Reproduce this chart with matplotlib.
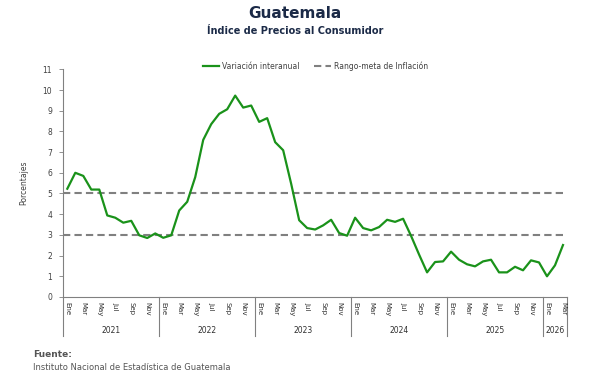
import numpy as np
import matplotlib
matplotlib.use('Agg')
import matplotlib.pyplot as plt
import matplotlib.transforms as mtransforms

plt.rcParams['font.family'] = ['DejaVu Sans']

years = ['2021', '2022', '2023', '2024', '2025', '2026']
months_per_year = [12, 12, 12, 12, 12, 3]
month_names = ['Ene', 'Feb', 'Mar', 'Abr', 'May', 'Jun', 'Jul', 'Ago', 'Sep', 'Oct', 'Nov', 'Dic']

inflacion = [5.23, 6.00, 5.85, 5.19, 5.19, 3.94, 3.83, 3.59, 3.68, 2.98, 2.85, 3.07,
             2.86, 2.98, 4.18, 4.60, 5.79, 7.59, 8.35, 8.85, 9.07, 9.73, 9.15, 9.25,
             8.46, 8.64, 7.48, 7.09, 5.47, 3.71, 3.33, 3.26, 3.46, 3.73, 3.09, 2.96,
             3.83, 3.33, 3.22, 3.38, 3.73, 3.63, 3.78, 2.95, 2.05, 1.19, 1.69, 1.72,
             2.19, 1.80, 1.58, 1.48, 1.72, 1.80, 1.19, 1.19, 1.46, 1.29, 1.77, 1.67,
             1.00, 1.53, 2.51]
meta_sup = 5
meta_inf = 3

green = '#1a921a'
gray = '#808080'
txt = '#404040'
navy = '#1b2a47'

fig = plt.figure(figsize=(5.90, 3.81), dpi=100)
ax = fig.add_axes([0.1073, 0.2205, 0.8537, 0.5976])

n = len(inflacion)
x = np.arange(n)
ax.plot(x, inflacion, color=green, lw=1.6, label='Variación interanual', zorder=3)
ax.axhline(meta_sup, color=gray, lw=1.5, ls=(0, (3.5, 2)), label='Rango-meta de Inflación', zorder=2)
ax.axhline(meta_inf, color=gray, lw=1.5, ls=(0, (3.5, 2)), zorder=2)

ax.set_xlim(-0.5, n - 0.5)
ax.set_ylim(0, 11)
ax.set_yticks(range(0, 12))
ax.tick_params(axis='y', labelsize=5.5, colors=txt, length=3, width=0.6, color=gray, pad=5)
ax.set_xticks([])
for s in ['top', 'right']:
    ax.spines[s].set_visible(False)
for s in ['left', 'bottom']:
    ax.spines[s].set_color(gray)
    ax.spines[s].set_linewidth(0.8)
ax.set_ylabel('Porcentajes', fontsize=5.5, color=txt, labelpad=10)

# etiquetas de meses y años
trans = mtransforms.blended_transform_factory(ax.transData, ax.transAxes)
idx = 0
edges = [-0.5]
for yr, nm in zip(years, months_per_year):
    for m in range(nm):
        if m % 2 == 0:
            ax.text(idx + m, -0.02, month_names[m], transform=trans, rotation=270,
                    ha='center', va='top', fontsize=5, color='#303030')
    ax.text(idx + (nm - 1) / 2, -0.145, yr, transform=trans, ha='center', va='center',
            fontsize=5.5, color='#303030')
    idx += nm
    edges.append(idx - 0.5)
for e in edges:
    ax.plot([e, e], [0, -0.17], transform=trans, color=gray, lw=0.8, clip_on=False)

ax.legend(loc='center', bbox_to_anchor=(0.5, 1.015), ncol=2, frameon=False,
          fontsize=5.5, handlelength=2.2, handletextpad=0.3, columnspacing=2.0,
          labelcolor=txt)

fig.text(0.5, 0.965, 'Guatemala', ha='center', va='center', fontsize=11,
         fontweight='bold', color=navy)
fig.text(0.5, 0.918, 'Índice de Precios al Consumidor', ha='center', va='center',
         fontsize=7, fontweight='bold', color=navy)
fig.text(0.056, 0.07, 'Fuente:', ha='left', va='center', fontsize=6.5,
         fontweight='bold', color='#555555')
fig.text(0.056, 0.035, 'Instituto Nacional de Estadística de Guatemala', ha='left',
         va='center', fontsize=6, color='#555555')

fig.savefig('out.png', dpi=100)
